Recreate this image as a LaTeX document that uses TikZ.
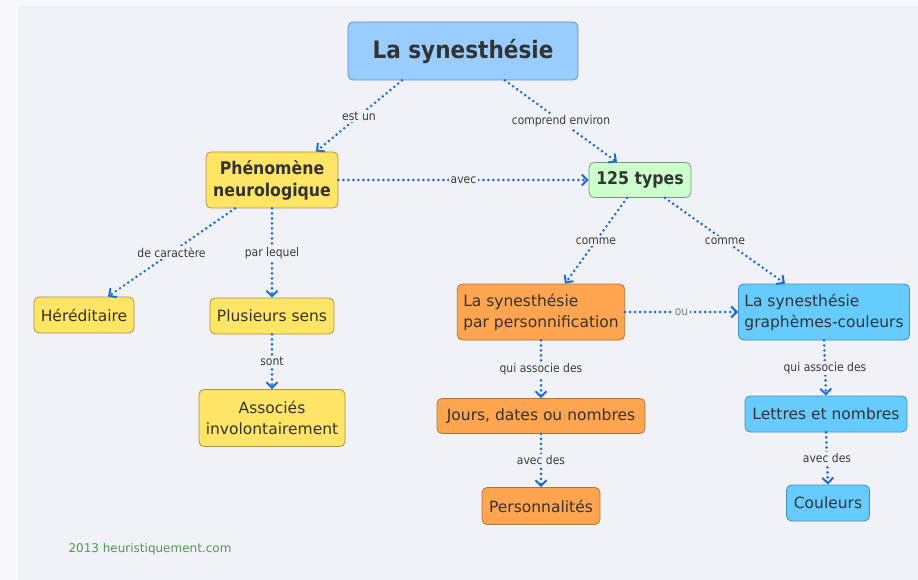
\documentclass[tikz,border=0pt]{standalone}
\usepackage{fontspec}
\setmainfont{DejaVu Sans}
\newfontfamily\condfont{DejaVu Sans Condensed}
\usetikzlibrary{arrows.meta}

\definecolor{outerbg}{HTML}{F8F8FA}
\definecolor{panelbg}{HTML}{F1F2F7}
\definecolor{ink}{HTML}{333333}
\definecolor{lblgray}{HTML}{3A3A3A}
\definecolor{linkblue}{HTML}{1E6ED2}
\definecolor{titlefill}{HTML}{99CCFF}
\definecolor{yellowfill}{HTML}{FFE566}
\definecolor{greenfill}{HTML}{CCFFCC}
\definecolor{orangefill}{HTML}{FFA54F}
\definecolor{cyanfill}{HTML}{66CCFF}
\definecolor{footgreen}{HTML}{4E9A4E}

\begin{document}
\begin{tikzpicture}[x=1pt, y=-1pt,
        concept/.style={rectangle, rounded corners=5pt, line width=0.8pt, text=ink,
            inner xsep=6pt, inner ysep=3pt, align=center,
            font=\fontsize{15.5}{21}\selectfont},
        titlebox/.style={concept, fill=titlefill, draw=titlefill!70!black,
            minimum width=230pt, minimum height=58pt,
            font=\condfont\bfseries\fontsize{24}{28}\selectfont},
        yellowbox/.style={concept, fill=yellowfill, draw=yellowfill!65!black},
        greenbox/.style={concept, fill=greenfill, draw=greenfill!60!black},
        orangebox/.style={concept, fill=orangefill, draw=orangefill!70!black},
        cyanbox/.style={concept, fill=cyanfill, draw=cyanfill!70!black},
        link/.style={draw=linkblue, line width=2.9pt, dash pattern=on 0pt off 5pt,
            line cap=round,
            -{Straight Barb[length=5.5pt, width=11pt, line width=2pt]}},
        lbl/.style={fill=panelbg, inner sep=1.5pt, text=lblgray,
            font=\condfont\fontsize{12}{14}\selectfont},
    ]
    % background
    \fill[outerbg] (0,0) rectangle (918,580);
    \fill[panelbg] (18,6) rectangle (918,580);
    \useasboundingbox (0,0) rectangle (918,580);

    % concepts
    \node[titlebox] (title) at (463,51) {La synesthésie};
    \node[yellowbox, minimum width=132pt, minimum height=56pt,
        font=\condfont\bfseries\fontsize{17.5}{22}\selectfont] (phen) at (272,180)
        {Phénomène\\neurologique};
    \node[greenbox, minimum width=102pt, minimum height=35pt,
        font=\condfont\bfseries\fontsize{17.5}{22}\selectfont] (types) at (640,180) {125 types};
    \node[yellowbox, minimum width=100pt, minimum height=36pt] (hered) at (84,315) {Héréditaire};
    \node[yellowbox, minimum width=124pt, minimum height=36pt] (plus) at (272,316) {Plusieurs sens};
    \node[yellowbox, minimum width=146pt, minimum height=57pt] (assoc) at (272,418)
        {Associés\\involontairement};
    \node[orangebox, align=left, minimum height=56pt] (pers) at (541,312)
        {La synesthésie\\par personnification};
    \node[cyanbox, align=left, minimum height=56pt] (graph) at (824,312)
        {La synesthésie\\graphèmes-couleurs};
    \node[orangebox, minimum width=208pt, minimum height=35pt] (jours) at (541,416)
        {Jours, dates ou nombres};
    \node[cyanbox, minimum width=162pt, minimum height=36pt] (lettres) at (826,414)
        {Lettres et nombres};
    \node[orangebox, minimum width=118pt, minimum height=37pt] (perso) at (541,506)
        {Personnalités};
    \node[cyanbox, minimum width=83pt, minimum height=36pt] (coul) at (828,503) {Couleurs};

    % links
    \draw[link] ([xshift=-61pt]title.south) -- node[lbl] {est un} ([xshift=44pt]phen.north);
    \draw[link] ([xshift=42pt]title.south) -- node[lbl] {comprend environ} ([xshift=-23pt]types.north);
    \draw[link] (phen.east) -- node[lbl] {avec} (types.west);
    \draw[link] ([xshift=-37pt]phen.south) -- node[lbl] {de caractère} ([xshift=24pt]hered.north);
    \draw[link] (phen.south) -- node[lbl] {par lequel} (plus.north);
    \draw[link] (plus.south) -- node[lbl] {sont} (assoc.north);
    \draw[link] ([xshift=-13pt]types.south) -- node[lbl] {comme} ([xshift=24pt]pers.north);
    \draw[link] ([xshift=25pt]types.south) -- node[lbl] {comme} ([xshift=-39pt]graph.north);
    \draw[link] (pers.east) -- node[lbl, text=gray] {ou} (graph.west);
    \draw[link] (pers.south) -- node[lbl] {qui associe des} (jours.north);
    \draw[link] (graph.south) -- node[lbl] {qui associe des} (lettres.north);
    \draw[link] (jours.south) -- node[lbl] {avec des} (perso.north);
    \draw[link] (lettres.south) -- node[lbl] {avec des} (coul.north);

    % footer
    \node[text=footgreen, font=\fontsize{12}{14}\selectfont] (foot) at (150,549)
        {2013 heuristiquement.com};
\end{tikzpicture}
\end{document}
